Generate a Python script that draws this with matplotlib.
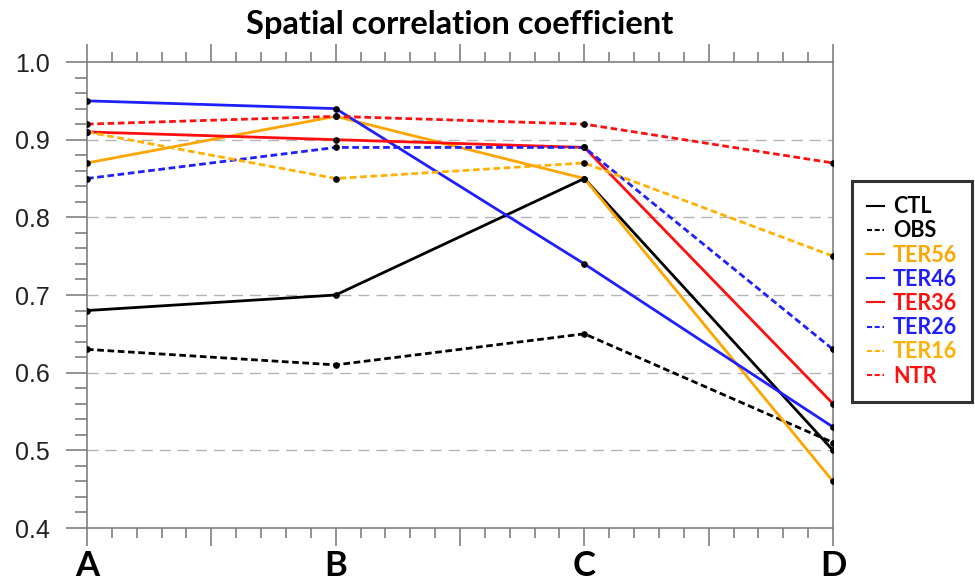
import numpy as np
import matplotlib
matplotlib.use('Agg')
import matplotlib.pyplot as plt
from matplotlib.ticker import MultipleLocator, FixedLocator, FormatStrFormatter

# 数据
sites = ['A', 'B', 'C', 'D']
series = ['CTL', 'OBS', 'TER56', 'TER46', 'TER36', 'TER26', 'TER16', 'NTR']
ctl = [0.68, 0.70, 0.85, 0.50]
obs = [0.63, 0.61, 0.65, 0.51]
ter56 = [0.87, 0.93, 0.85, 0.46]
ter46 = [0.95, 0.94, 0.74, 0.53]
ter36 = [0.91, 0.90, 0.89, 0.56]
ter26 = [0.85, 0.89, 0.89, 0.63]
ter16 = [0.91, 0.85, 0.87, 0.75]
ntr = [0.92, 0.93, 0.92, 0.87]
y_ticks = [0.4, 0.5, 0.6, 0.7, 0.8, 0.9, 1.0]
grid_levels = [0.5, 0.6, 0.7, 0.8, 0.9]

values = [ctl, obs, ter56, ter46, ter36, ter26, ter16, ntr]
colors = ['black', 'black', '#ffa500', '#1f1fff', '#ff1010', '#1f1fff', '#ffb000', '#ff1010']
solid = [True, False, True, True, True, False, False, False]

axis_grey = '#7f7f7f'
dash = (0, (2.4, 1.3))

fig = plt.figure(figsize=(9.75, 5.85), dpi=100)
ax = fig.add_axes([87/975, 1 - 528/585, (833 - 87)/975, (528 - 62)/585])

x = np.arange(len(sites))

# 水平虚线网格
for yv in grid_levels:
    ax.axhline(yv, color='#b4b4b4', lw=1.0, ls=(0, (8, 5)), zorder=1)

handles = []
for vals, c, s, name in zip(values, colors, solid, series):
    h, = ax.plot(x, vals, color=c, lw=2.0, ls='-' if s else dash,
                 marker='o', ms=3.8, mfc='black', mec='black', zorder=3,
                 label=name)
    handles.append(h)

ax.set_xlim(0, 3)
ax.set_ylim(0.4, 1.0)

# 刻度
ax.xaxis.set_major_locator(FixedLocator([0, 0.5, 1, 1.5, 2, 2.5, 3]))
ax.xaxis.set_minor_locator(MultipleLocator(0.1))
ax.set_xticklabels(['A', '', 'B', '', 'C', '', 'D'])
ax.yaxis.set_major_locator(FixedLocator(y_ticks))
ax.yaxis.set_minor_locator(MultipleLocator(0.02))
ax.yaxis.set_major_formatter(FormatStrFormatter('%.1f'))

ax.tick_params(axis='x', which='both', direction='out', top=True, bottom=True,
               color=axis_grey, width=1.2)
ax.tick_params(axis='x', which='major', length=13, pad=3)
ax.tick_params(axis='x', which='minor', length=7)
ax.tick_params(axis='y', which='both', direction='out', left=True, right=False,
               color=axis_grey, width=1.2)
ax.tick_params(axis='y', which='major', length=15, pad=12)
ax.tick_params(axis='y', which='minor', length=9)

for lab in ax.get_xticklabels():
    lab.set_fontfamily('Lato')
    lab.set_fontweight('bold')
    lab.set_fontsize(25)
for lab in ax.get_yticklabels():
    lab.set_fontfamily('Liberation Sans')
    lab.set_fontsize(18)
    lab.set_color('#222222')

for sp in ax.spines.values():
    sp.set_color(axis_grey)
    sp.set_linewidth(1.2)

ax.set_title('Spatial correlation coefficient', fontfamily='Lato',
             fontweight='bold', fontsize=23.5, pad=20)

# 图例
leg = fig.legend(handles=handles, loc='upper left',
                 bbox_to_anchor=(852/975, 1 - 181/585), borderaxespad=0,
                 prop={'family': 'Lato', 'weight': 'bold', 'size': 15.5},
                 handlelength=0.8, handletextpad=0.4, labelspacing=0.15,
                 borderpad=0.7, fancybox=False, frameon=True)
leg.get_frame().set_edgecolor('black')
leg.get_frame().set_linewidth(2.2)
for t, c in zip(leg.get_texts(), colors):
    t.set_color(c)
for lh in leg.get_lines():
    lh.set_marker('')
    lh.set_linewidth(1.5)

fig.savefig('out.png', dpi=100)
